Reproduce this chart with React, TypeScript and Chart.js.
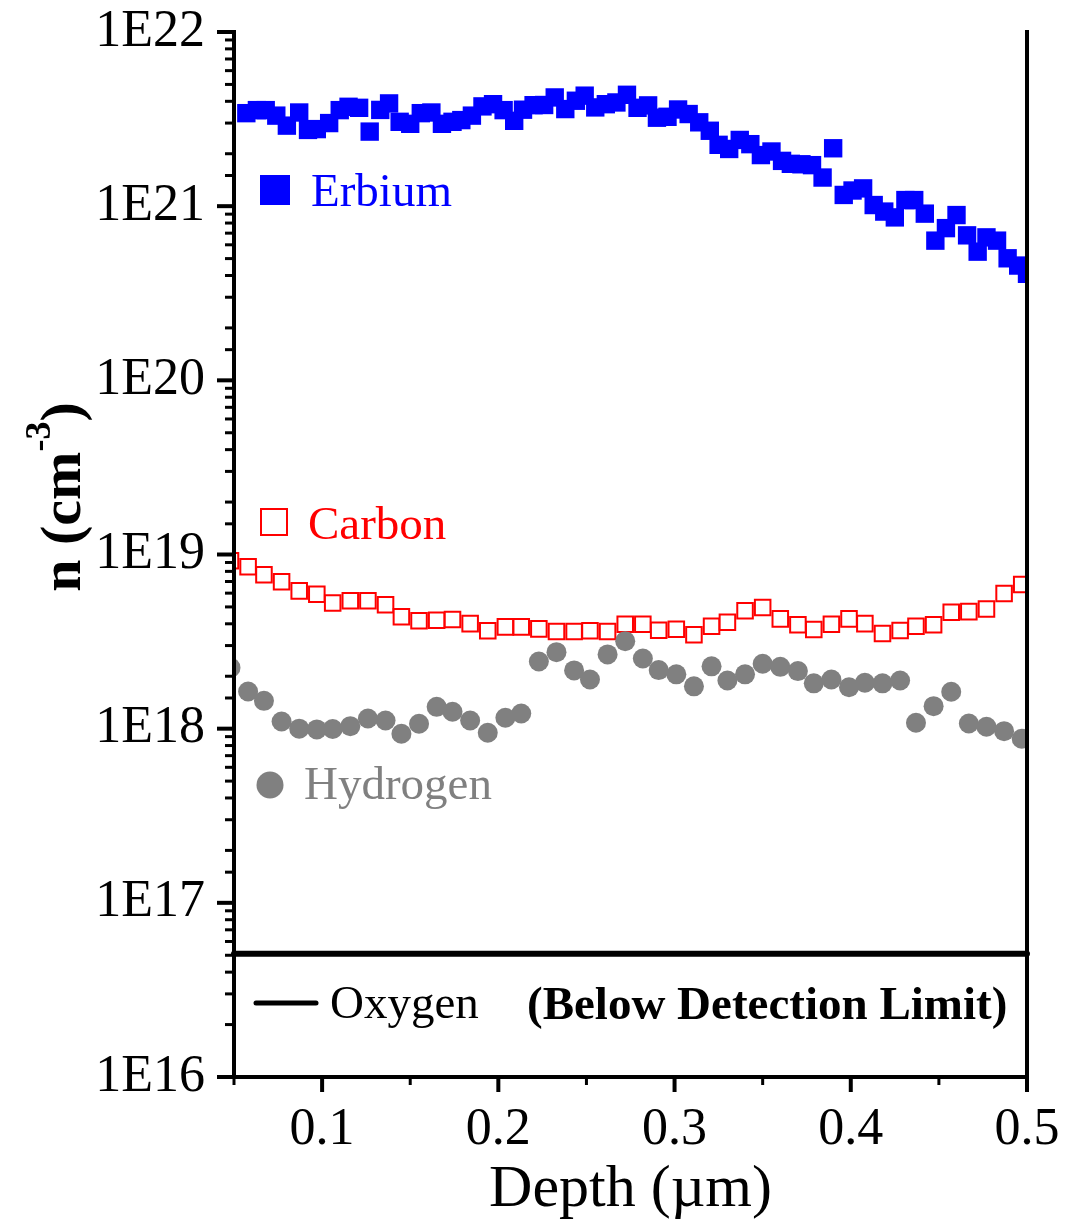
import { useEffect, useRef } from "react";
import { Chart, registerables } from "chart.js";

Chart.register(...registerables);

const SERIF = "'Liberation Serif', 'Times New Roman', Times, serif";

// Erbium profile (cm^-3) versus depth (µm)
const erbiumDepth = [
  0.057, 0.063, 0.068, 0.074, 0.080, 0.087, 0.092, 0.097, 0.104, 0.110, 0.115, 0.121, 0.127,
  0.133, 0.138, 0.144, 0.150, 0.156, 0.162, 0.168, 0.174, 0.179, 0.185, 0.191, 0.197, 0.203,
  0.209, 0.214, 0.220, 0.226, 0.232, 0.238, 0.244, 0.249, 0.255, 0.261, 0.267, 0.273, 0.279,
  0.285, 0.290, 0.296, 0.302, 0.308, 0.314, 0.320, 0.325, 0.331, 0.337, 0.343, 0.349, 0.355,
  0.361, 0.366, 0.372, 0.378, 0.384, 0.390, 0.396, 0.401, 0.407, 0.413, 0.419, 0.425, 0.431,
  0.436, 0.442, 0.448, 0.454, 0.460, 0.466, 0.472, 0.477, 0.483, 0.489, 0.495, 0.500,
];
const erbiumConc = [
  3.42e21, 3.56e21, 3.56e21, 3.31e21, 2.9e21, 3.45e21, 2.74e21, 2.77e21, 3.0e21, 3.56e21, 3.72e21, 3.67e21, 2.68e21,
  3.57e21, 3.89e21, 3.05e21, 2.97e21, 3.42e21, 3.45e21, 2.97e21, 3.05e21, 3.12e21, 3.31e21, 3.74e21, 3.85e21, 3.56e21,
  3.09e21, 3.58e21, 3.8e21, 3.81e21, 4.21e21, 3.61e21, 4.03e21, 4.31e21, 3.69e21, 3.85e21, 3.94e21, 4.36e21, 3.67e21,
  3.79e21, 3.22e21, 3.26e21, 3.59e21, 3.38e21, 3.03e21, 2.71e21, 2.25e21, 2.13e21, 2.4e21, 2.27e21, 1.965e21, 2.06e21,
  1.82e21, 1.75e21, 1.74e21, 1.72e21, 1.46e21, 2.15e21, 1.16e21, 1.23e21, 1.265e21, 1.015e21, 9.31e20, 8.62e20, 1.084e21,
  1.084e21, 9.06e20, 6.34e20, 7.48e20, 8.89e20, 6.8e20, 5.48e20, 6.62e20, 6.34e20, 5.02e20, 4.56e20, 4.09e20,
];

// Carbon and hydrogen were sampled on the same depth grid
const sampleDepth = [
  0.048, 0.058, 0.067, 0.077, 0.087, 0.097, 0.106, 0.116, 0.126, 0.136, 0.145, 0.155, 0.165, 0.174,
  0.184, 0.194, 0.204, 0.213, 0.223, 0.233, 0.243, 0.252, 0.262, 0.272, 0.282, 0.291, 0.301, 0.311,
  0.321, 0.330, 0.340, 0.350, 0.360, 0.370, 0.379, 0.389, 0.399, 0.408, 0.418, 0.428, 0.437, 0.447,
  0.457, 0.467, 0.477, 0.487, 0.497,
];
const carbonConc = [
  9.2e18, 8.5e18, 7.65e18, 6.97e18, 6.18e18, 5.91e18, 5.26e18, 5.42e18, 5.42e18, 5.14e18, 4.39e18, 4.16e18,
  4.19e18, 4.23e18, 4.01e18, 3.65e18, 3.84e18, 3.84e18, 3.74e18, 3.61e18, 3.61e18, 3.65e18, 3.61e18, 3.98e18,
  3.98e18, 3.67e18, 3.72e18, 3.46e18, 3.87e18, 4.08e18, 4.75e18, 4.96e18, 4.27e18, 3.95e18, 3.71e18, 3.98e18,
  4.27e18, 4.01e18, 3.52e18, 3.66e18, 3.87e18, 3.95e18, 4.66e18, 4.7e18, 4.87e18, 5.97e18, 6.72e18,
];
const hydrogenConc = [
  2.24e18, 1.635e18, 1.445e18, 1.1e18, 1.0e18, 9.9e17, 9.95e17, 1.034e18, 1.144e18, 1.114e18, 9.35e17, 1.067e18,
  1.335e18, 1.25e18, 1.114e18, 9.47e17, 1.155e18, 1.222e18, 2.43e18, 2.75e18, 2.16e18, 1.915e18, 2.67e18, 3.18e18,
  2.53e18, 2.17e18, 2.05e18, 1.75e18, 2.28e18, 1.89e18, 2.05e18, 2.36e18, 2.265e18, 2.14e18, 1.82e18, 1.915e18,
  1.73e18, 1.834e18, 1.82e18, 1.89e18, 1.081e18, 1.346e18, 1.628e18, 1.071e18, 1.026e18, 9.68e17, 8.75e17,
];

// Oxygen stays below the detection limit across the whole profile
const oxygenDepth = [0.05, 0.5];
const oxygenLimit = [5.1e16, 5.1e16];

// Axis ticks
const xMajorTicks = [0.1, 0.2, 0.3, 0.4, 0.5];
const xTickLabels = ["0.1", "0.2", "0.3", "0.4", "0.5"];
const yMajorTicks = [1e16, 1e17, 1e18, 1e19, 1e20, 1e21, 1e22];
const yTickLabels = ["1E16", "1E17", "1E18", "1E19", "1E20", "1E21", "1E22"];

const toPoints = (xs: number[], ys: number[]) => xs.map((x, i) => ({ x, y: ys[i] }));

const yMajorIndex = (v: number) =>
  yMajorTicks.findIndex((m) => Math.abs(Math.log10(v) - Math.log10(m)) < 1e-6);
const xMajorIndex = (v: number) => xMajorTicks.findIndex((m) => Math.abs(v - m) < 1e-6);

// Axis frame and tick marks drawn over the markers
const framePlugin = {
  id: "frame",
  afterDatasetsDraw(chart: any) {
    const { ctx, chartArea, scales } = chart;
    const { left, right, top, bottom } = chartArea;
    const xs = scales.x;
    const ys = scales.y;
    ctx.save();
    ctx.strokeStyle = "#000";
    ctx.lineCap = "butt";
    for (const t of ys.ticks) {
      const py = ys.getPixelForValue(t.value);
      const major = yMajorIndex(t.value) >= 0;
      ctx.lineWidth = major ? 4 : 3;
      ctx.beginPath();
      ctx.moveTo(left - (major ? 17 : 9), py);
      ctx.lineTo(left, py);
      ctx.stroke();
    }
    for (const t of xs.ticks) {
      const px = xs.getPixelForValue(t.value);
      const major = xMajorIndex(t.value) >= 0;
      ctx.lineWidth = major ? 4 : 3;
      ctx.beginPath();
      ctx.moveTo(px, bottom);
      ctx.lineTo(px, bottom + (major ? 15 : 8));
      ctx.stroke();
    }
    ctx.lineWidth = 4;
    ctx.beginPath();
    ctx.moveTo(left, top - 2);
    ctx.lineTo(left, bottom + 2);
    ctx.moveTo(left - 2, bottom);
    ctx.lineTo(right + 2, bottom);
    ctx.moveTo(right, top - 2);
    ctx.lineTo(right, bottom + 2);
    ctx.stroke();
    ctx.restore();
  },
};

// Series captions, the oxygen note and the rotated y-axis title
const annotationPlugin = {
  id: "annotations",
  afterDraw(chart: any) {
    const { ctx } = chart;
    const size = 47;
    const cap = size * 0.331;
    ctx.save();
    ctx.textAlign = "left";
    ctx.textBaseline = "alphabetic";

    ctx.fillStyle = "#0000ff";
    ctx.fillRect(260, 175, 30, 30);
    ctx.font = `${size}px ${SERIF}`;
    ctx.fillText("Erbium", 311, 190 + cap);

    ctx.strokeStyle = "#ff0000";
    ctx.lineWidth = 2;
    ctx.strokeRect(261, 509, 26, 26);
    ctx.fillStyle = "#ff0000";
    ctx.fillText("Carbon", 308, 523 + cap);

    ctx.fillStyle = "#808080";
    ctx.beginPath();
    ctx.arc(270, 785, 13.5, 0, Math.PI * 2);
    ctx.fill();
    ctx.fillText("Hydrogen", 304, 783 + cap);

    ctx.strokeStyle = "#000";
    ctx.lineWidth = 5;
    ctx.lineCap = "round";
    ctx.beginPath();
    ctx.moveTo(256, 1003);
    ctx.lineTo(316, 1003);
    ctx.stroke();
    ctx.fillStyle = "#000";
    ctx.fillText("Oxygen", 330, 1002 + cap);
    ctx.font = `bold ${size}px ${SERIF}`;
    ctx.fillText("(Below Detection Limit)", 527, 1003 + cap);

    // y-axis title: n (cm^-3)
    ctx.translate(80, 497);
    ctx.rotate(-Math.PI / 2);
    const mainFont = `bold 58px ${SERIF}`;
    const supFont = `bold 36px ${SERIF}`;
    ctx.font = mainFont;
    const w1 = ctx.measureText("n (cm").width;
    const w3 = ctx.measureText(")").width;
    ctx.font = supFont;
    const w2 = ctx.measureText("-3").width;
    const start = -(w1 + w2 + w3) / 2;
    ctx.font = mainFont;
    ctx.fillText("n (cm", start, 0);
    ctx.font = supFont;
    ctx.fillText("-3", start + w1, -30);
    ctx.font = mainFont;
    ctx.fillText(")", start + w1 + w2, 0);
    ctx.restore();
  },
};

export default function App() {
  const canvasRef = useRef<HTMLCanvasElement | null>(null);

  useEffect(() => {
    document.body.style.margin = "0";
    const canvas = canvasRef.current;
    if (!canvas) return;
    const chart = new Chart(canvas, {
      type: "scatter",
      data: {
        datasets: [
          {
            label: "Erbium",
            data: toPoints(erbiumDepth, erbiumConc),
            pointStyle: "rect",
            pointRadius: 13,
            backgroundColor: "#0000ff",
            borderColor: "#0000ff",
            borderWidth: 0,
            order: 1,
          },
          {
            label: "Hydrogen",
            data: toPoints(sampleDepth, hydrogenConc),
            pointStyle: "circle",
            pointRadius: 10,
            backgroundColor: "#808080",
            borderColor: "#808080",
            borderWidth: 0,
            order: 2,
          },
          {
            label: "Carbon",
            data: toPoints(sampleDepth, carbonConc),
            pointStyle: "rect",
            pointRadius: 11,
            backgroundColor: "#ffffff",
            borderColor: "#ff0000",
            borderWidth: 2,
            order: 3,
          },
          {
            label: "Oxygen",
            data: toPoints(oxygenDepth, oxygenLimit),
            showLine: true,
            pointRadius: 0,
            borderColor: "#000000",
            borderWidth: 6,
            borderCapStyle: "round",
            clip: false,
            order: 4,
          } as any,
        ],
      },
      options: {
        responsive: false,
        animation: false,
        events: [],
        layout: { padding: { top: 32, right: 38, bottom: 0, left: 0 } },
        plugins: {
          legend: { display: false },
          tooltip: { enabled: false },
        },
        scales: {
          x: {
            type: "linear",
            min: 0.05,
            max: 0.5,
            grid: { display: false, drawTicks: false },
            border: { display: false },
            ticks: {
              stepSize: 0.05,
              autoSkip: false,
              maxRotation: 0,
              minRotation: 0,
              padding: 22,
              color: "#000",
              font: { family: SERIF, size: 52, lineHeight: 1.2 },
              callback: (v: any) => {
                const i = xMajorIndex(Number(v));
                return i >= 0 ? xTickLabels[i] : "";
              },
            },
            title: {
              display: true,
              text: "Depth (\u00b5m)",
              color: "#000",
              font: { family: SERIF, size: 60, lineHeight: 1.2 },
              padding: { top: 0, bottom: 0 },
            },
            afterFit: (s: any) => {
              s.height = 1226 - 1077;
              s.paddingLeft = 0;
              s.paddingRight = 0;
            },
          },
          y: {
            type: "logarithmic",
            min: 1e16,
            max: 1e22,
            grid: { display: false, drawTicks: false },
            border: { display: false },
            ticks: {
              autoSkip: false,
              padding: 29,
              color: "#000",
              font: { family: SERIF, size: 52, lineHeight: 1.2 },
              callback: (v: any) => {
                const i = yMajorIndex(Number(v));
                return i >= 0 ? yTickLabels[i] : "";
              },
            },
            afterFit: (s: any) => {
              s.width = 234;
              s.paddingTop = 0;
              s.paddingBottom = 0;
            },
          },
        },
      },
      plugins: [framePlugin, annotationPlugin],
    });
    return () => chart.destroy();
  }, []);

  return (
    <div style={{ width: 1065, height: 1226 }}>
      <canvas ref={canvasRef} width={1065} height={1226} style={{ display: "block" }} />
    </div>
  );
}
